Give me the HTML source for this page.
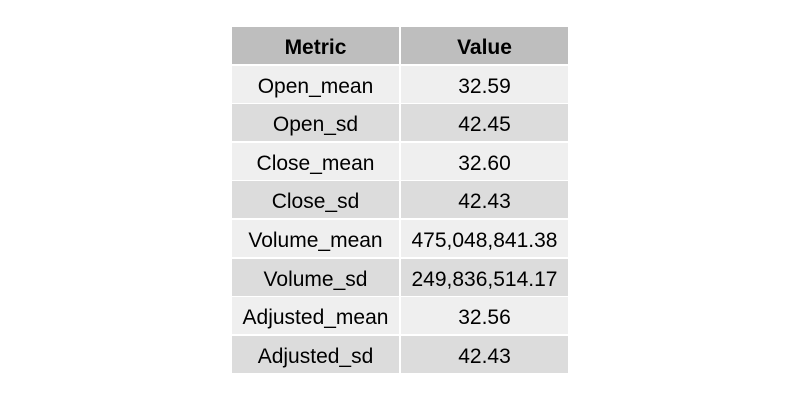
<html><head><style>
body{margin:0;width:800px;height:400px;background:#fff;font-family:"Liberation Sans",sans-serif;position:relative}
.c{position:absolute;height:37px;line-height:41px;text-align:center;font-size:21px;color:#000;overflow:hidden}
</style></head><body>
<div id="t"></div>
<script>
const metrics=["Open_mean","Open_sd","Close_mean","Close_sd","Volume_mean","Volume_sd","Adjusted_mean","Adjusted_sd"];
const values=["32.59","42.45","32.60","42.43","475,048,841.38","249,836,514.17","32.56","42.43"];
const t=document.getElementById('t');
function cell(x,w,y,txt,bg,bold,name){const d=document.createElement('div');d.className='c';
d.style.left=x+'px';d.style.width=w+'px';d.style.top=y+'px';d.style.background=bg;if(bold)d.style.fontWeight='bold';d.textContent=txt;


t.appendChild(d);}
cell(232,167,27,"Metric","#bebebe",true,'header-metric');
cell(401,167,27,"Value","#bebebe",true,'header-value');
metrics.forEach((m,i)=>{const y=27+(i+1)*38.6;const bg=i%2?"#dcdcdc":"#efefef";
cell(232,167,y,m,bg,false,'metric-cell');cell(401,167,y,values[i],bg,false,'value-cell');});
</script></body></html>
